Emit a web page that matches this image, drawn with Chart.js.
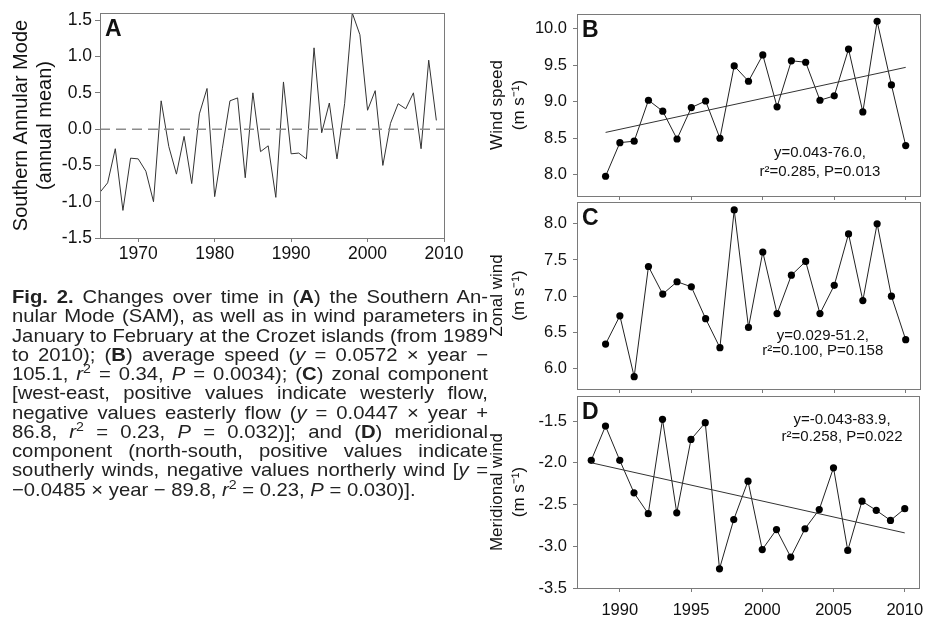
<!DOCTYPE html>
<html>
<head>
<meta charset="utf-8">
<script src="https://cdn.jsdelivr.net/npm/chart.js@4.4.0/dist/chart.umd.min.js"></script>
<style>
  body { margin: 0; background: #fff; }
  #page { position: relative; width: 937px; height: 623px; overflow: hidden; }
  canvas { position: absolute; }
  #cap { position: absolute; left: 12px; top: 287px; color: #222; transform-origin: 0 0;
         font-family: "Liberation Sans", Arial, sans-serif; font-size: 18.5px; }
  #cap div { height: 19.25px; line-height: 19.25px; text-align: justify; text-align-last: justify; }
  #cap div.last { text-align-last: left; }
  #cap sup { font-size: 0.7em; line-height: 0; vertical-align: 0.55em; }
</style>
</head>
<body>
<div id="page">
  <canvas id="chartA" width="470" height="270" style="left:0;top:0"></canvas>
  <canvas id="chartB" width="467" height="200" style="left:470px;top:0"></canvas>
  <canvas id="chartC" width="467" height="196" style="left:470px;top:198px"></canvas>
  <canvas id="chartD" width="467" height="231" style="left:470px;top:392px"></canvas>
  <div id="cap">
    <div><b>Fig. 2.</b> Changes over time in (<b>A</b>) the Southern An-</div>
    <div>nular Mode (SAM), as well as in wind parameters in</div>
    <div>January to February at the Crozet islands (from 1989</div>
    <div>to 2010); (<b>B</b>) average speed (<i>y</i> = 0.0572 × year −</div>
    <div>105.1, <i>r</i><sup>2</sup> = 0.34, <i>P</i> = 0.0034); (<b>C</b>) zonal component</div>
    <div>[west-east, positive values indicate westerly flow,</div>
    <div>negative values easterly flow (<i>y</i> = 0.0447 × year +</div>
    <div>86.8, <i>r</i><sup>2</sup> = 0.23, <i>P</i> = 0.032)]; and (<b>D</b>) meridional</div>
    <div>component (north-south, positive values indicate</div>
    <div>southerly winds, negative values northerly wind [<i>y</i> =</div>
    <div class="last">−0.0485 × year − 89.8, <i>r</i><sup>2</sup> = 0.23, <i>P</i> = 0.030)].</div>
  </div>
</div>
<script>
// panel A - Southern Annular Mode, annual mean
const samYears = [1965, 1966, 1967, 1968, 1969, 1970, 1971, 1972, 1973, 1974,
                  1975, 1976, 1977, 1978, 1979, 1980, 1981, 1982, 1983, 1984,
                  1985, 1986, 1987, 1988, 1989, 1990, 1991, 1992, 1993, 1994,
                  1995, 1996, 1997, 1998, 1999, 2000, 2001, 2002, 2003, 2004,
                  2005, 2006, 2007, 2008, 2009];
const samValues = [-0.87, -0.74, -0.27, -1.12, -0.40, -0.41, -0.58, -1.00, 0.39, -0.24,
                   -0.62, -0.10, -0.75, 0.21, 0.56, -0.93, -0.27, 0.39, 0.43, -0.67,
                   0.50, -0.31, -0.23, -0.94, 0.65, -0.34, -0.33, -0.41, 1.12, -0.05,
                   0.36, -0.41, 0.35, 1.60, 1.30, 0.26, 0.53, -0.50, 0.08, 0.35,
                   0.28, 0.50, -0.27, 0.95, 0.12];

// panels B, C - Crozet wind, January-February
const windYears = [1989, 1990, 1991, 1992, 1993, 1994, 1995, 1996, 1997, 1998, 1999,
                   2000, 2001, 2002, 2003, 2004, 2005, 2006, 2007, 2008, 2009, 2010];
const speedValues = [7.98, 8.44, 8.46, 9.02, 8.87, 8.49, 8.92, 9.01, 8.50, 9.49, 9.28,
                     9.64, 8.93, 9.56, 9.54, 9.02, 9.08, 9.72, 8.86, 10.10, 9.23, 8.40];
const zonalValues = [6.34, 6.73, 5.89, 7.41, 7.03, 7.20, 7.13, 6.69, 6.29, 8.19, 6.57,
                     7.61, 6.76, 7.29, 7.48, 6.76, 7.15, 7.86, 6.94, 8.00, 7.00, 6.40];

// panel D - meridional wind
const meridYears = [1988, 1989, 1990, 1991, 1992, 1993, 1994, 1995, 1996, 1997, 1998, 1999,
                    2000, 2001, 2002, 2003, 2004, 2005, 2006, 2007, 2008, 2009, 2010];
const meridValues = [-1.97, -1.56, -1.97, -2.36, -2.61, -1.48, -2.60, -1.72, -1.52, -3.27, -2.68, -2.22,
                     -3.04, -2.80, -3.13, -2.79, -2.56, -2.06, -3.05, -2.46, -2.57, -2.69, -2.55];

// fitted lines
const speedTrendYears = [1989, 2010];
const speedTrend = [8.58, 9.47];
const meridTrendYears = [1988, 2010];
const meridTrend = [-2.0, -2.84];

// tick labels
const xTicksA = [1970, 1980, 1990, 2000, 2010];
const yTicksA = [-1.5, -1.0, -0.5, 0.0, 0.5, 1.0, 1.5];
const xTicksWind = [1990, 1995, 2000, 2005, 2010];
const yTicksSpeed = [8.0, 8.5, 9.0, 9.5, 10.0];
const yTicksZonal = [6.0, 6.5, 7.0, 7.5, 8.0];
const yTicksMerid = [-3.5, -3.0, -2.5, -2.0, -1.5];

const speedFit = ['y=0.043-76.0,', 'r\u00B2=0.285, P=0.013'];
const zonalFit = ['y=0.029-51.2,', 'r\u00B2=0.100, P=0.158'];
const meridFit = ['y=-0.043-83.9,', 'r\u00B2=0.258, P=0.022'];

const FONT = '"Liberation Sans", Arial, sans-serif';
Chart.defaults.font.family = FONT;
Chart.defaults.color = '#111';

// caption: squeeze Liberation Sans to look like the narrow journal face, then justify
(function fitCaption() {
  const cap = document.getElementById('cap');
  const W = 476;
  let maxW = 0;
  for (const d of cap.children) {
    const s = document.createElement('span');
    s.style.whiteSpace = 'nowrap';
    s.innerHTML = d.innerHTML;
    d.innerHTML = '';
    d.appendChild(s);
    maxW = Math.max(maxW, s.getBoundingClientRect().width);
  }
  const k = W / (maxW + 1);
  for (const d of cap.children) d.innerHTML = d.firstChild.innerHTML;
  cap.style.width = (W / k) + 'px';
  cap.style.transform = 'scaleX(' + k + ')';
})();

function pts(xs, ys) {
  return xs.map((x, i) => ({x: x, y: ys[i]}));
}

// frame box, panel letter and fit statistics
const framePlugin = {
  id: 'frame',
  afterDatasetsDraw(chart, args, opts) {
    const {ctx, chartArea: a, scales} = chart;
    ctx.save();
    ctx.strokeStyle = '#7a7a7a';
    ctx.lineWidth = 1;
    ctx.strokeRect(Math.round(a.left) + 0.5, Math.round(a.top) + 0.5,
                   Math.round(a.right - a.left), Math.round(a.bottom - a.top));
    ctx.fillStyle = '#111';
    ctx.font = 'bold 23px ' + FONT;
    ctx.textAlign = 'left';
    ctx.textBaseline = 'alphabetic';
    ctx.fillText(opts.letter, a.left + 5, a.top + 23);
    if (opts.note) {
      ctx.font = '15px ' + FONT;
      ctx.textAlign = 'center';
      ctx.textBaseline = 'middle';
      opts.note.lines.forEach((t, i) => {
        ctx.fillText(t, scales.x.getPixelForValue(opts.note.x), scales.y.getPixelForValue(opts.note.y[i]));
      });
    }
    ctx.restore();
  }
};

function panel(id, o) {
  return new Chart(document.getElementById(id), {
    type: 'line',
    data: { datasets: o.datasets },
    options: {
      responsive: false,
      animation: false,
      layout: { padding: o.pad },
      plugins: {
        legend: { display: false },
        tooltip: { enabled: false },
        frame: { letter: o.letter, note: o.note }
      },
      scales: {
        x: {
          type: 'linear', min: o.xMin, max: o.xMax,
          afterBuildTicks: s => { s.ticks = o.xTicks.map(v => ({value: v})); },
          afterFit: s => { s.height = o.xH; s.paddingLeft = 0; s.paddingRight = 0; },
          border: { display: false },
          grid: { drawOnChartArea: false, tickLength: 4, color: '#7a7a7a' },
          ticks: { display: o.xLabels, autoSkip: false, maxRotation: 0, padding: o.xPad,
                   font: { size: o.tickSize }, callback: v => String(v) }
        },
        y: {
          min: o.yMin, max: o.yMax,
          afterBuildTicks: s => { s.ticks = o.yTicks.map(v => ({value: v})); },
          afterFit: s => { s.width = o.yW; s.paddingTop = 0; s.paddingBottom = 0; },
          border: { display: false },
          grid: { drawOnChartArea: false, tickLength: o.yTick, color: '#7a7a7a' },
          ticks: { padding: o.yPad, font: { size: o.tickSize }, callback: v => v.toFixed(1) },
          title: { display: true, text: o.title, color: '#111',
                   font: { size: o.titleSize, lineHeight: o.titleLH },
                   padding: { top: o.titlePad, bottom: 0 } }
        }
      }
    },
    plugins: [framePlugin]
  });
}

function dotted(xs, ys) {
  return { data: pts(xs, ys), borderColor: '#222', borderWidth: 1, pointRadius: 3.6,
           pointBackgroundColor: '#000', pointBorderWidth: 0 };
}
function trend(xs, ys) {
  return { data: pts(xs, ys), borderColor: '#333', borderWidth: 1, pointRadius: 0 };
}

panel('chartA', {
  datasets: [
    { data: pts([1965, 2010], [0, 0]), borderColor: '#8c8c8c', borderWidth: 1.5,
      borderDash: [10, 6], pointRadius: 0 },
    { data: pts(samYears, samValues), borderColor: '#333', borderWidth: 1, pointRadius: 0 }
  ],
  letter: 'A',
  pad: { top: 13, right: 26, bottom: 0, left: 0 },
  xMin: 1965, xMax: 2010, xTicks: xTicksA, xH: 32, xLabels: true, xPad: 2,
  yMin: -1.5, yMax: 1.6, yTicks: yTicksA, yW: 100, yTick: 5, yPad: 3,
  tickSize: 17.5, title: ['Southern Annular Mode', '(annual mean)'],
  titleSize: 20, titleLH: 1.2, titlePad: 9
});

panel('chartB', {
  datasets: [ trend(speedTrendYears, speedTrend), dotted(windYears, speedValues) ],
  letter: 'B',
  note: { lines: speedFit, x: 2004.0, y: [8.30, 8.04] },
  pad: { top: 14, right: 17, bottom: 0, left: 0 },
  xMin: 1987, xMax: 2011, xTicks: xTicksWind, xH: 4, xLabels: false, xPad: 0,
  yMin: 7.71, yMax: 10.2, yTicks: yTicksSpeed, yW: 107, yTick: 4, yPad: 6,
  tickSize: 16.5, title: ['Wind speed', '(m s\u207B\u00B9)'],
  titleSize: 17, titleLH: 1.25, titlePad: 17
});

panel('chartC', {
  datasets: [ dotted(windYears, zonalValues) ],
  letter: 'C',
  note: { lines: zonalFit, x: 2004.2, y: [6.45, 6.24] },
  pad: { top: 4, right: 17, bottom: 0, left: 0 },
  xMin: 1987, xMax: 2011, xTicks: xTicksWind, xH: 5, xLabels: false, xPad: 0,
  yMin: 5.72, yMax: 8.3, yTicks: yTicksZonal, yW: 107, yTick: 4, yPad: 6,
  tickSize: 16.5, title: ['Zonal wind', '(m s\u207B\u00B9)'],
  titleSize: 17, titleLH: 1.25, titlePad: 17
});

panel('chartD', {
  datasets: [ trend(meridTrendYears, meridTrend), dotted(meridYears, meridValues) ],
  letter: 'D',
  note: { lines: meridFit, x: 2005.6, y: [-1.48, -1.69] },
  pad: { top: 2, right: 18, bottom: 0, left: 0 },
  xMin: 1987, xMax: 2011, xTicks: xTicksWind, xH: 35, xLabels: true, xPad: 9,
  yMin: -3.5, yMax: -1.2, yTicks: yTicksMerid, yW: 107, yTick: 4, yPad: 6,
  tickSize: 16.5, title: ['Meridional wind', '(m s\u207B\u00B9)'],
  titleSize: 17, titleLH: 1.25, titlePad: 17
});
</script>
</body>
</html>
